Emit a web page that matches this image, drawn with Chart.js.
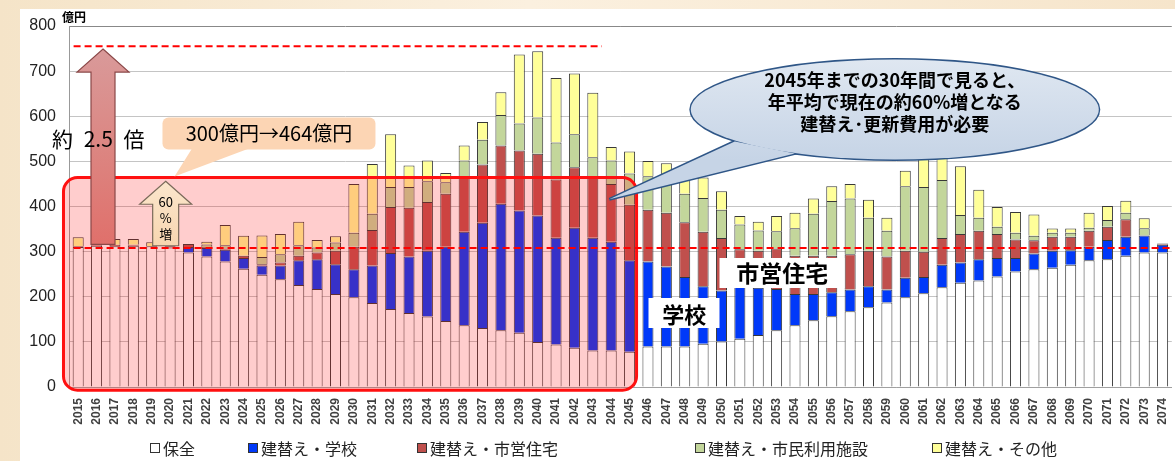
<!DOCTYPE html>
<html lang="ja">
<head>
<meta charset="utf-8">
<script src="https://cdn.jsdelivr.net/npm/chart.js@4.4.0/dist/chart.umd.min.js"></script>
<style>
html, body { margin: 0; padding: 0; }
body {
    width: 1175px; height: 461px; overflow: hidden; position: relative;
    background: linear-gradient(90deg, #f5e4c8, #fbf0df 45%, #f6e5cb);
    font-family: "Noto Sans CJK JP", sans-serif;
}
#panel { position: absolute; left: 20px; top: 9px; right: 0; bottom: 0; background: #fff; }
#wrap { position: absolute; left: 0; top: 0; width: 1175px; height: 461px; overflow: hidden; }
canvas { position: absolute; left: 0; top: 0; }
.note { position: absolute; white-space: nowrap; color: #000; line-height: 1; }
.center { transform: translate(-50%, -50%); }
.tag { background: #fff; font-weight: bold; display: flex; align-items: center; justify-content: center; }
.legend { position: absolute; top: 439px; font-size: 16px; line-height: 18px; color: #222; display: flex; align-items: center; white-space: nowrap; }
.legend i { display: inline-block; width: 8px; height: 8px; border: 1px solid #333; margin-right: 3px; }
</style>
</head>
<body>
<div id="panel"></div>
<div id="wrap">
    <canvas id="chart" width="1180" height="461"></canvas>
</div>
<div class="note" style="left:62px; top:11px; font-size:12px; font-weight:bold;">億円</div>
<div class="legend" style="left:150px;"><i style="background:#ffffff"></i>保全</div>
<div class="legend" style="left:248px;"><i style="background:#0039f9"></i>建替え・学校</div>
<div class="legend" style="left:417px;"><i style="background:#c0504d"></i>建替え・市営住宅</div>
<div class="legend" style="left:695px;"><i style="background:#c3d69b"></i>建替え・市民利用施設</div>
<div class="legend" style="left:932px;"><i style="background:#ffff99"></i>建替え・その他</div>
<script>
// 年度
const years = ['2015','2016','2017','2018','2019','2020','2021','2022','2023','2024',
    '2025','2026','2027','2028','2029','2030','2031','2032','2033','2034',
    '2035','2036','2037','2038','2039','2040','2041','2042','2043','2044',
    '2045','2046','2047','2048','2049','2050','2051','2052','2053','2054',
    '2055','2056','2057','2058','2059','2060','2061','2062','2063','2064',
    '2065','2066','2067','2068','2069','2070','2071','2072','2073','2074'];

// 費用（億円）
const hozen  = [310,313,312,313,312,309,298,289,278,262, 249,239,226,217,206,199,186,173,164,156,
                146,137,131,126,120,100, 94, 87, 81, 81,  78, 90, 90, 90, 96,101,107,115,126,137,
                148,157,168,177,187,199,208,221,231,236, 245,256,261,264,271,281,283,291,298,298];
const gakko  = [  0,  0,  0,  0,  0,  0, 12, 19, 26, 24,  20, 30, 55, 66, 66, 62, 83,124,125,146,
                165,207,233,280,271,280,237,266,250,241, 203,188,177,154,127,113,115,105, 91, 69,
                 58, 53, 48, 46, 29, 43, 36, 50, 45, 47,  41, 30, 35, 38, 32, 30, 43, 42, 38, 17];
const shiei  = [  2,  4,  3,  2,  0,  3,  7,  2,  3,  5,   3,  7, 10, 15, 30, 50, 79,102,108,108,
                117,122,129,129,133,137,129,134,132,128, 123,115,119,121,121,116, 83, 82, 90, 85,
                 85, 81, 78, 79, 73, 60, 56, 59, 63, 63,  53, 41, 29, 31, 30, 35, 29, 39,  0,  3];
const shimin = [  0,  0,  0,  0,  0,  0,  0,  6,  7,  0,  16, 18, 23, 11, 18, 31, 36, 44, 46, 46,
                 26, 36, 55, 68, 60, 80, 82, 73, 46, 52,  69, 74, 81, 63, 75, 63, 55, 45, 38, 61,
                 93,121,124, 73, 57,143,143,129, 42, 29,  16, 15, 10,  9,  9,  7, 15, 14, 16,  0];
const sonota = [ 20,  0, 13, 13,  9,  0,  0,  6, 45, 44,  48, 45, 52, 17, 14,108,110,117, 48, 46,
                 20, 33, 39, 50,153,147,143,135,143, 30,  49, 34, 29, 40, 45, 41, 19, 19, 34, 34,
                 34, 33, 32, 40, 29, 34, 80, 70,108, 62,  44, 46, 47,  9,  9, 33, 31, 27, 22,  0];

// 軸
const yMin = 0, yMax = 800, yStep = 100;

// 注記の値
const nowLine = 308;    // 現在
const peakLine = 755;   // 約2.5倍
const avgLine = 464;    // 30年間の平均
const lastIdx = 30;     // 囲みの右端（2045）

const series = [
    { label: '保全', data: hozen, color: '#ffffff' },
    { label: '建替え・学校', data: gakko, color: '#0039f9' },
    { label: '建替え・市営住宅', data: shiei, color: '#c0504d' },
    { label: '建替え・市民利用施設', data: shimin, color: '#c3d69b' },
    { label: '建替え・その他', data: sonota, color: '#ffff99' }
];

function upArrow(ctx, cx, yTip, yHead, yBottom, shaft, head, fill, stroke) {
    ctx.beginPath();
    ctx.moveTo(cx, yTip);
    ctx.lineTo(cx + head, yHead);
    ctx.lineTo(cx + shaft, yHead);
    ctx.lineTo(cx + shaft, yBottom);
    ctx.lineTo(cx - shaft, yBottom);
    ctx.lineTo(cx - shaft, yHead);
    ctx.lineTo(cx - head, yHead);
    ctx.closePath();
    ctx.fillStyle = fill;
    ctx.fill();
    ctx.lineWidth = 1.2;
    ctx.strokeStyle = stroke;
    ctx.stroke();
}

const notesPlugin = {
    id: 'notes',
    afterDatasetsDraw(chart) {
        const { ctx, chartArea, scales: { x, y } } = chart;
        const px = i => x.getPixelForValue(i);
        const py = v => y.getPixelForValue(v);
        ctx.save();

        // 30年間の囲み
        const rl = px(-0.8), rr = px(lastIdx + 0.38), rt = py(avgLine), rb = py(-7);
        ctx.beginPath();
        ctx.roundRect(rl, rt, rr - rl, rb - rt, 14);
        ctx.fillStyle = 'rgba(255,23,23,0.216)';
        ctx.fill();
        ctx.lineWidth = 3;
        ctx.strokeStyle = '#ff1010';
        ctx.stroke();

        // 基準線
        ctx.setLineDash([7, 4]);
        ctx.lineWidth = 2;
        ctx.strokeStyle = '#ff0000';
        ctx.beginPath();
        ctx.moveTo(px(-0.25), py(nowLine));
        ctx.lineTo(chartArea.right, py(nowLine));
        ctx.moveTo(px(-0.25), py(peakLine));
        ctx.lineTo(px(28.5), py(peakLine));
        ctx.stroke();
        ctx.setLineDash([]);

        // 約2.5倍の矢印
        const ax = px(1.35);
        const g = ctx.createLinearGradient(0, py(749), 0, py(316));
        g.addColorStop(0, '#d99a9a');
        g.addColorStop(0.5, '#dc8682');
        g.addColorStop(1, '#e0706b');
        upArrow(ctx, ax, py(749), py(698), py(316), 12, 26, g, '#8a4848');

        // 60%増の矢印
        const sx = px(4.76);
        const g2 = ctx.createLinearGradient(0, py(456), 0, py(313));
        g2.addColorStop(0, '#fbe6cc');
        g2.addColorStop(1, '#f7d6b0');
        upArrow(ctx, sx, py(456), py(405), py(313), 13, 26, g2, '#7a6a5a');

        // 300億円→464億円 の吹き出し
        const cx = px(10.38), cy = py(562), cw = 213, ch = 32;
        ctx.fillStyle = '#fcd5b4';
        ctx.beginPath();
        ctx.roundRect(cx - cw / 2, cy - ch / 2, cw, ch, 6);
        ctx.fill();
        ctx.beginPath();
        ctx.moveTo(cx - 77, cy + ch / 2 - 1);
        ctx.lineTo(px(5.24), py(avgLine) - 1);
        ctx.lineTo(cx - 20, cy + ch / 2 - 1);
        ctx.closePath();
        ctx.fill();

        // 楕円の吹き出し
        const bx = px(44.43), by = py(615), brx = 204, bry = 50;
        const tipX = px(28.9), tipY = py(416);
        const tail = () => {
            ctx.beginPath();
            ctx.moveTo(bx - 160, by + 32);
            ctx.lineTo(tipX, tipY);
            ctx.lineTo(bx - 100, by + 44);
            ctx.closePath();
        };
        const oval = () => {
            ctx.beginPath();
            ctx.ellipse(bx, by, brx, bry, 0, 0, Math.PI * 2);
        };
        const bg = ctx.createLinearGradient(0, by - bry, 0, by + bry);
        bg.addColorStop(0, '#dfe7f1');
        bg.addColorStop(1, '#c6d4e6');
        ctx.lineWidth = 3;
        ctx.strokeStyle = '#2f5687';
        oval(); ctx.stroke();
        tail(); ctx.stroke();
        ctx.fillStyle = bg;
        oval(); ctx.fill();
        tail(); ctx.fill();

        ctx.restore();
    }
};

const chart = new Chart(document.getElementById('chart'), {
    type: 'bar',
    data: {
        labels: years,
        datasets: series.map(s => ({
            label: s.label,
            data: s.data.map(v => v || null),
            backgroundColor: s.color,
            borderColor: '#383838',
            borderWidth: 1,
            categoryPercentage: 1,
            barPercentage: 0.6
        }))
    },
    options: {
        responsive: false,
        animation: false,
        layout: { padding: { top: 26, right: 1, left: 0, bottom: 0 } },
        plugins: { legend: { display: false }, tooltip: { enabled: false } },
        scales: {
            x: {
                stacked: true,
                grid: { display: false },
                border: { color: '#a0a0a0' },
                ticks: {
                    autoSkip: false, maxRotation: 90, minRotation: 90, padding: 3,
                    color: '#404040', font: { family: 'Liberation Sans', size: 12, weight: 'bold' }
                },
                afterFit: s => { s.height = 74; }
            },
            y: {
                stacked: true, min: yMin, max: yMax,
                grid: { color: c => c.tick.value === yMax ? '#888' : '#c4c4c4', drawTicks: false },
                border: { color: '#999' },
                ticks: {
                    stepSize: yStep, padding: 13, color: '#222',
                    font: { family: 'Liberation Sans', size: 16 }
                },
                afterFit: s => { s.width = 69; }
            }
        }
    },
    plugins: [notesPlugin]
});

// 注記テキスト
function addNote(html, left, top, style, cls) {
    const d = document.createElement('div');
    d.className = 'note ' + (cls || '');
    d.innerHTML = html;
    d.style.left = left + 'px';
    d.style.top = top + 'px';
    Object.assign(d.style, style || {});
    document.body.appendChild(d);
    return d;
}

function placeNotes() {
    const { x, y } = chart.scales;
    const px = i => x.getPixelForValue(i);
    const py = v => y.getPixelForValue(v);

    addNote('約 2.5 倍', 52, py(551), { fontSize: '21px', transform: 'translateY(-50%)', wordSpacing: '6px' });
    addNote('300億円→464億円', px(10.38), py(562), { fontSize: '20px' }, 'center');
    addNote('60', px(4.76), py(405) - 3, { fontSize: '13px' }, 'center');
    addNote('%', px(4.76), py(405) + 13, { fontSize: '13px' }, 'center');
    addNote('増', px(4.76), py(405) + 29, { fontSize: '13px' }, 'center');

    const bx = px(44.43), by = py(615);
    const lines = ['2045年までの30年間で見ると、', '年平均で現在の約60%増となる', '建替え･更新費用が必要'];
    lines.forEach((t, k) => {
        addNote(t, bx, by - 30 + k * 22, { fontSize: '18px', fontWeight: 'bold' }, 'center');
    });

    addNote('市営住宅', px(38.3), py(253), { fontSize: '23px', width: '125px', height: '30px' }, 'center tag');
    addNote('学校', px(32.97), py(163), { fontSize: '22px', width: '71px', height: '30px' }, 'center tag');
}
placeNotes();
</script>
</body>
</html>
